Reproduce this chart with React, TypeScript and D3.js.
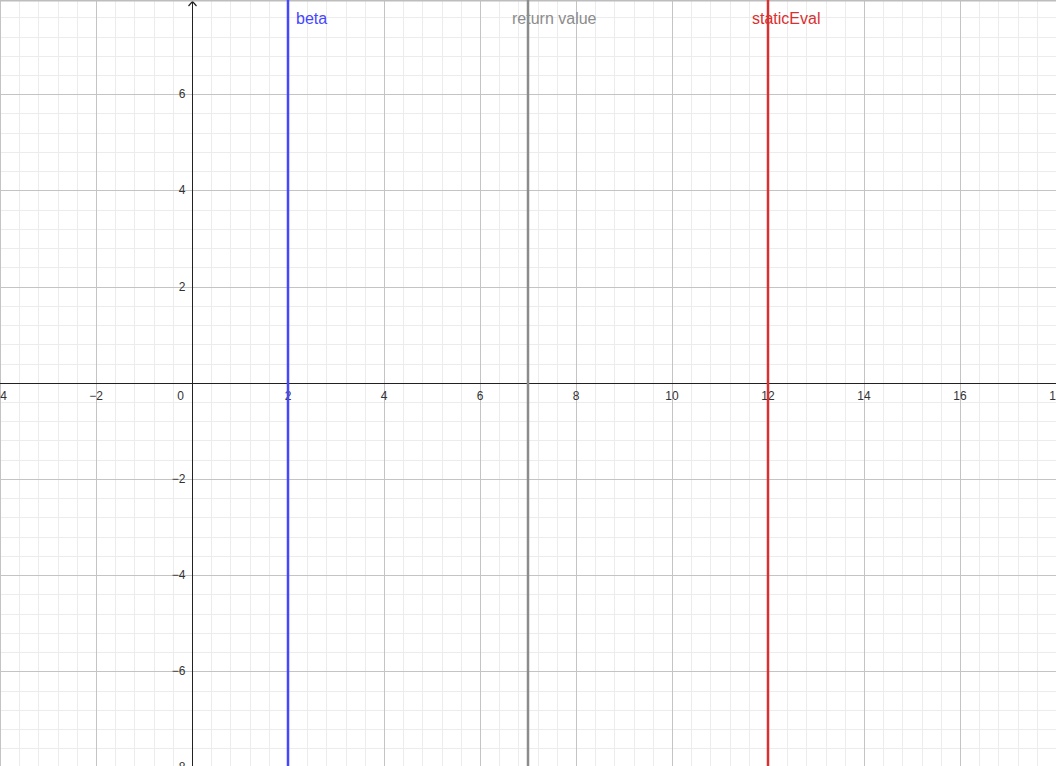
import React, { useEffect, useRef } from "react";
import * as d3 from "d3";

const W = 1056;
const H = 766;

// visible window of the graph, in axis units
const xDomain = [-4, 18];
const yDomain = [-7.97, 7.96];

const xTicks = [-4, -2, 0, 2, 4, 6, 8, 10, 12, 14, 16, 18];
const yTicks = [-8, -6, -4, -2, 2, 4, 6];

// vertical reference lines
const lineNames = ["beta", "return value", "staticEval"];
const lineValues = [2, 7, 12];
const lineColors = ["#4646ff", "#8c8c8c", "#d93030"];

const fmt = (d: number) => (d < 0 ? "\u2212" + Math.abs(d) : String(d));

export default function App() {
  const ref = useRef<SVGSVGElement>(null);

  useEffect(() => {
    const svg = d3.select(ref.current);
    svg.selectAll("*").remove();

    const x = d3.scaleLinear().domain(xDomain).range([0, W]);
    const y = d3.scaleLinear().domain(yDomain).range([H, 0]);

    svg.append("rect").attr("width", W).attr("height", H).attr("fill", "#fff");

    // minor grid (every 0.4)
    const minorX = d3.range(-4, 18.01, 0.4);
    const minorY = d3.range(-8, 8.01, 0.4);
    const g = svg.append("g").attr("shape-rendering", "crispEdges");
    g.selectAll("line.mx")
      .data(minorX)
      .enter()
      .append("line")
      .attr("x1", d => Math.round(x(d)) + 0.5)
      .attr("x2", d => Math.round(x(d)) + 0.5)
      .attr("y1", 0)
      .attr("y2", H)
      .attr("stroke", "#ececec");
    g.selectAll("line.my")
      .data(minorY)
      .enter()
      .append("line")
      .attr("y1", d => Math.round(y(d)) + 0.5)
      .attr("y2", d => Math.round(y(d)) + 0.5)
      .attr("x1", 0)
      .attr("x2", W)
      .attr("stroke", "#ececec");

    // major grid (every 2)
    g.selectAll("line.Mx")
      .data(d3.range(-4, 18.01, 2))
      .enter()
      .append("line")
      .attr("x1", d => Math.round(x(d)) + 0.5)
      .attr("x2", d => Math.round(x(d)) + 0.5)
      .attr("y1", 0)
      .attr("y2", H)
      .attr("stroke", "#c4c4c4");
    g.selectAll("line.My")
      .data(d3.range(-8, 8.01, 2))
      .enter()
      .append("line")
      .attr("y1", d => Math.round(y(d)) + 0.5)
      .attr("y2", d => Math.round(y(d)) + 0.5)
      .attr("x1", 0)
      .attr("x2", W)
      .attr("stroke", "#c4c4c4");

    // axes
    const x0 = Math.round(x(0)) + 0.5;
    const y0 = Math.round(y(0)) + 0.5;
    g.append("line").attr("x1", 0).attr("x2", W).attr("y1", y0).attr("y2", y0).attr("stroke", "#222");
    g.append("line").attr("x1", x0).attr("x2", x0).attr("y1", 1).attr("y2", H).attr("stroke", "#222");
    svg
      .append("path")
      .attr("d", `M${x0 - 4},${6} L${x0},${1.5} L${x0 + 4},${6}`)
      .attr("fill", "none")
      .attr("stroke", "#222")
      .attr("stroke-width", 1.2);

    // top shadow
    svg.append("rect").attr("x", 0).attr("y", 0).attr("width", W).attr("height", 1.5).attr("fill", "#bdbdbd");

    // tick labels
    const font = "Liberation Sans, Arial, sans-serif";
    svg
      .append("g")
      .selectAll("text")
      .data(xTicks)
      .enter()
      .append("text")
      .attr("x", d => (d === 0 ? x(d) - 8 : x(d)))
      .attr("y", y0 + 16)
      .attr("text-anchor", d => (d === 0 ? "end" : "middle"))
      .attr("font-family", font)
      .attr("font-size", 12)
      .attr("fill", "#333")
      .text(d => (d === 0 ? "0" : fmt(d)));
    svg
      .append("g")
      .selectAll("text")
      .data(yTicks)
      .enter()
      .append("text")
      .attr("x", x0 - 7)
      .attr("y", d => y(d) + 4)
      .attr("text-anchor", "end")
      .attr("font-family", font)
      .attr("font-size", 12)
      .attr("fill", "#333")
      .text(d => fmt(d));

    // vertical lines
    const vg = svg.append("g");
    lineValues.forEach((v, i) => {
      const px = x(v);
      vg.append("line")
        .attr("x1", px)
        .attr("x2", px)
        .attr("y1", 0)
        .attr("y2", H)
        .attr("stroke", lineColors[i])
        .attr("stroke-width", 2.5);
    });

    // labels
    svg
      .append("g")
      .selectAll("text")
      .data(lineNames)
      .enter()
      .append("text")
      .attr("x", (d, i) => (i === 0 ? x(lineValues[i]) + 8 : x(lineValues[i]) - 16))
      .attr("y", 23.5)
      .attr("font-family", font)
      .attr("font-size", 16)
      .attr("fill", (d, i) => lineColors[i])
      .text(d => d);
  }, []);

  return (
    <svg
      ref={ref}
      width={W}
      height={H}
      style={{ position: "fixed", left: 0, top: 0, display: "block" }}
    ></svg>
  );
}
